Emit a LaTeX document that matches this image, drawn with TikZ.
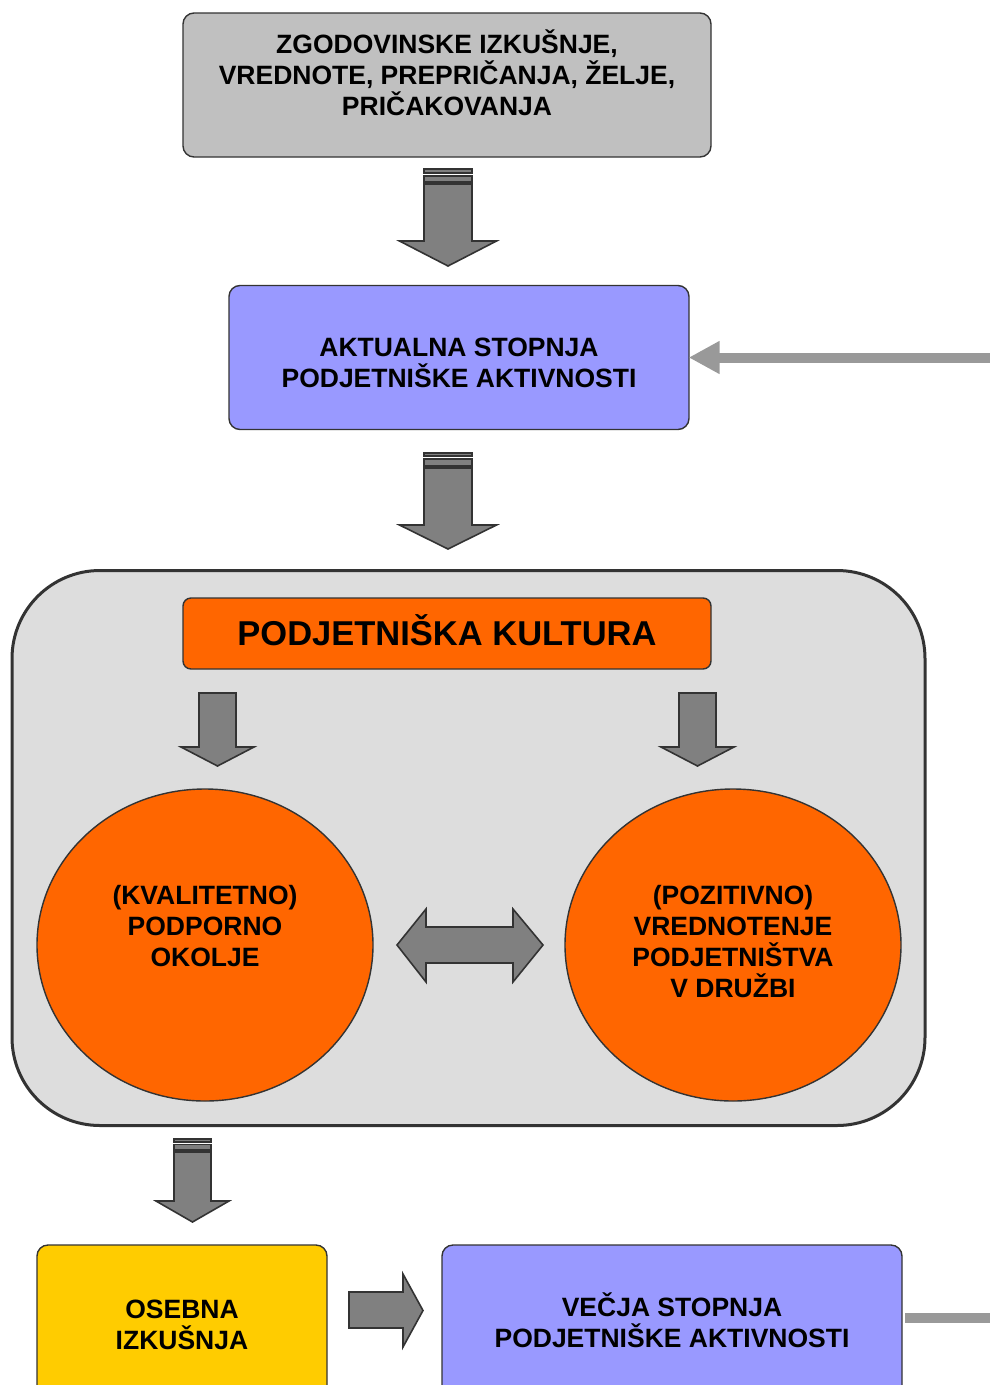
\documentclass[tikz,border=0pt]{standalone}
\usepackage{fontspec}
\setmainfont{Liberation Sans}
\usetikzlibrary{arrows.meta,shapes.geometric}

\definecolor{boxgray}{HTML}{C0C0C0}
\definecolor{boxblue}{HTML}{9999FF}
\definecolor{boxorange}{HTML}{FF6600}
\definecolor{boxyellow}{HTML}{FFCC00}
\definecolor{panelgray}{HTML}{DDDDDD}
\definecolor{edgegray}{HTML}{333333}
\definecolor{arrowgray}{HTML}{808080}
\definecolor{linkgray}{HTML}{999999}

% down-pointing block arrow: centre x, shaft top, head base, tip, half shaft width, half head width
\newcommand\blockdownarrow[6]{%
  \draw[blockarrow] (#1-#5,#2) -- (#1+#5,#2) -- (#1+#5,#3) -- (#1+#6,#3)
    -- (#1,#4) -- (#1-#6,#3) -- (#1-#5,#3) -- cycle;}

\tikzset{
  blockarrow/.style={fill=arrowgray, draw=edgegray, line width=1.6pt, line join=miter},
  stripe/.style={fill=arrowgray, draw=edgegray, line width=1.2pt},
  roundbox/.style={draw=edgegray, line width=1.4pt, rounded corners=11pt, rectangle,
    inner sep=0pt},
  bubble/.style={draw=edgegray, line width=1.4pt, fill=boxorange, ellipse,
    minimum width=336pt, minimum height=312pt, inner sep=0pt},
  boxtext/.style={align=center, inner sep=0pt, font=\bfseries\fontsize{26.5}{31}\selectfont},
  link/.style={draw=linkgray, line width=10pt},
}

\begin{document}
\begin{tikzpicture}[x=1pt, y=-1pt]
\useasboundingbox (0,0) rectangle (990,1385);

% top box
\node[roundbox, fill=boxgray, minimum width=528pt, minimum height=144pt] (hist) at (447,85) {};
\node[boxtext] (histtxt) at (447,73)
  {ZGODOVINSKE IZKUŠNJE,\\VREDNOTE, PREPRIČANJA, ŽELJE,\\PRIČAKOVANJA};

% first striped arrow
\draw[stripe] (424,169) rectangle (472,173);
\draw[stripe] (424,176) rectangle (472,182);
\blockdownarrow{448}{184}{241}{266}{24}{48.5}

% current activity box
\node[roundbox, fill=boxblue, minimum width=460pt, minimum height=144pt] (akt) at (459,357.5) {};
\node[boxtext] (akttxt) at (459,363) {AKTUALNA STOPNJA\\PODJETNIŠKE AKTIVNOSTI};

% feedback link entering from the right
\coordinate (fbin) at (990,357.5);
\draw[link, -{Triangle[length=31pt, width=31pt]}] (fbin) -- ([xshift=-1pt]akt.east);

% second striped arrow
\draw[stripe] (424,453) rectangle (472,456);
\draw[stripe] (424,459) rectangle (472,466);
\blockdownarrow{448}{468}{525}{549}{24}{48.5}

% culture panel
\node[draw=edgegray, line width=3pt, fill=panelgray, rounded corners=88pt, rectangle,
  minimum width=913pt, minimum height=555pt, inner sep=0pt] (panel) at (468.5,848) {};

\node[draw=edgegray, line width=1.4pt, fill=boxorange, rounded corners=8pt, rectangle,
  minimum width=528pt, minimum height=71pt, inner sep=0pt] (kult) at (447,633.5) {};
\node[inner sep=0pt, font=\bfseries\fontsize{34.5}{40}\selectfont] (kulttxt) at (447,630)
  {PODJETNIŠKA KULTURA};

\blockdownarrow{217.5}{693}{747}{766}{18.5}{36.5}
\blockdownarrow{697.5}{693}{747}{766}{18.5}{36.5}

% the two circles
\node[bubble] (okolje) at (205,945) {};
\node[boxtext] (okoljetxt) at (205,926) {(KVALITETNO)\\PODPORNO\\OKOLJE};
\node[bubble] (druzba) at (733,945) {};
\node[boxtext] (druzbatxt) at (733,941.5) {(POZITIVNO)\\VREDNOTENJE\\PODJETNIŠTVA\\V DRUŽBI};

% double arrow between the circles
\draw[blockarrow] (397,945) -- (426,909) -- (426,927) -- (513,927) -- (513,909) -- (543,945)
  -- (513,982) -- (513,963) -- (426,963) -- (426,982) -- cycle;

% third striped arrow
\draw[stripe] (174,1139) rectangle (211,1142);
\draw[stripe] (174,1144.5) rectangle (211,1150);
\blockdownarrow{192.5}{1152}{1201}{1222}{18.5}{36.5}

% bottom row
\draw[draw=edgegray, line width=1.4pt, fill=boxyellow, rounded corners=11pt]
  (37,1410) -- (37,1245) -- (327,1245) -- (327,1410);
\node[boxtext] (oseb) at (182,1324.5) {OSEBNA\\IZKUŠNJA};

\draw[blockarrow] (349,1292) -- (403,1292) -- (403,1274) -- (423,1310.5) -- (403,1347)
  -- (403,1328) -- (349,1328) -- cycle;

\draw[draw=edgegray, line width=1.4pt, fill=boxblue, rounded corners=11pt]
  (442,1410) -- (442,1245) -- (902,1245) -- (902,1410);
\node[boxtext] (vecja) at (672,1320.5) {VEČJA STOPNJA\\PODJETNIŠKE AKTIVNOSTI};

% feedback link leaving to the right
\coordinate (fbstart) at (905,1318);
\coordinate (fbout) at (990,1318);
\draw[link] (fbstart) -- (fbout);
\end{tikzpicture}
\end{document}
